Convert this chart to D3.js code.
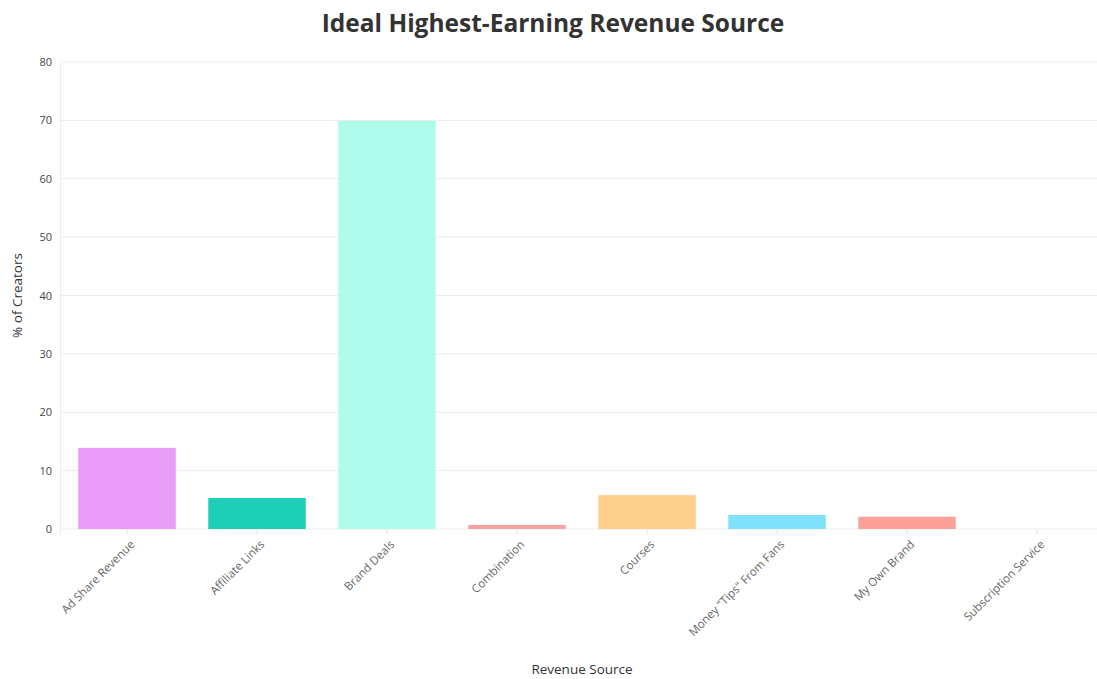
<!DOCTYPE html>
<html>
<head>
<meta charset="utf-8">
<script src="https://cdn.jsdelivr.net/npm/d3@7"></script>
<style>
  body { margin: 0; background: #fff; }
  svg { display: block; font-family: "Open Sans", "Noto Sans", sans-serif; }
</style>
</head>
<body>
<svg></svg>
<script>
var width = 1097, height = 679;
var fontFamily = '"Open Sans", "Noto Sans", sans-serif';

// data
var categories = ['Ad Share Revenue', 'Affiliate Links', 'Brand Deals', 'Combination',
                  'Courses', 'Money "Tips" From Fans', 'My Own Brand', 'Subscription Service'];
var values = [13.9, 5.3, 69.9, 0.7, 5.8, 2.4, 2.1, 0];
var colors = ['#e99cf7', '#1ecfb7', '#b0fcec', '#f6a3a1', '#fdd08b', '#7fe1fa', '#fda09a', '#cccccc'];
var yTicks = [0, 10, 20, 30, 40, 50, 60, 70, 80];

var margin = {top: 62, right: 0, bottom: 150, left: 60};

var svg = d3.select('svg')
    .attr('width', width)
    .attr('height', height);

var x = d3.scaleBand()
    .domain(categories)
    .range([margin.left + 2, margin.left + 2 + 130 * categories.length])
    .paddingInner(0.25)
    .paddingOuter(0.125);

var y = d3.scaleLinear()
    .domain([0, 80])
    .range([height - margin.bottom, margin.top]);

// gridlines
svg.append('g')
  .selectAll('line')
  .data(yTicks)
  .enter()
  .append('line')
    .attr('x1', margin.left)
    .attr('x2', width)
    .attr('y1', function(d) { return y(d) })
    .attr('y2', function(d) { return y(d) })
    .attr('stroke', '#ececec')
    .attr('stroke-width', 1);

// left axis line
svg.append('line')
    .attr('x1', margin.left + 0.5)
    .attr('x2', margin.left + 0.5)
    .attr('y1', y(80))
    .attr('y2', y(0) + 6)
    .attr('stroke', '#ececec');

// bars
svg.append('g')
  .selectAll('rect')
  .data(values)
  .enter()
  .append('rect')
    .attr('x', function(d, i) { return x(categories[i]) })
    .attr('width', x.bandwidth())
    .attr('y', function(d) { return y(d) })
    .attr('height', function(d) { return y(0) - y(d) })
    .attr('fill', function(d, i) { return colors[i] });

// y axis
var yAxis = svg.append('g')
    .attr('transform', 'translate(' + (margin.left - 8) + ',0)')
    .call(d3.axisLeft(y).tickValues(yTicks).tickSize(0).tickPadding(0))
    .attr('font-family', fontFamily);
yAxis.select('.domain').remove();
yAxis.selectAll('text')
    .attr('fill', '#444')
    .attr('font-size', 11);

// x axis
var xAxis = svg.append('g')
    .attr('transform', 'translate(0,' + y(0) + ')')
    .call(d3.axisBottom(x).tickSize(5).tickPadding(4))
    .attr('font-family', fontFamily);
xAxis.select('.domain').remove();
xAxis.selectAll('line').attr('stroke', '#e4e4e4');
xAxis.selectAll('text')
    .attr('fill', '#666')
    .attr('font-size', 11.5)
    .attr('text-anchor', 'end')
    .attr('dy', '0.35em')
    .attr('transform', 'translate(-1,7) rotate(-45)');

// titles
svg.append('text')
    .attr('x', 553)
    .attr('y', 32)
    .attr('text-anchor', 'middle')
    .attr('font-size', 24.5)
    .attr('font-weight', 'bold')
    .attr('fill', '#333')
    .text('Ideal Highest-Earning Revenue Source');

svg.append('text')
    .attr('x', 582)
    .attr('y', 674)
    .attr('text-anchor', 'middle')
    .attr('font-size', 13.5)
    .attr('fill', '#333')
    .text('Revenue Source');

svg.append('text')
    .attr('transform', 'translate(22,' + ((y(0) + y(80)) / 2) + ') rotate(-90)')
    .attr('text-anchor', 'middle')
    .attr('font-size', 13.5)
    .attr('fill', '#333')
    .text('% of Creators');
</script>
</body>
</html>
